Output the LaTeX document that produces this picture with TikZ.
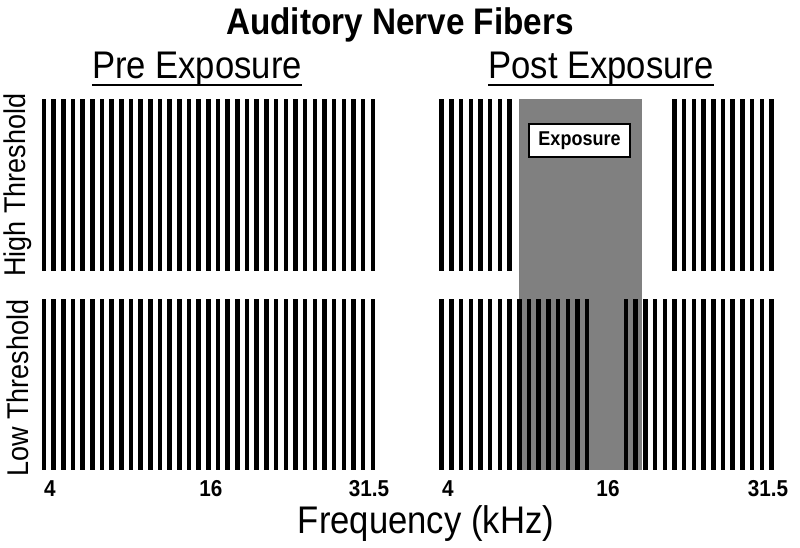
\documentclass[tikz,border=0pt]{standalone}
\usepackage{fontspec}
\setmainfont{Liberation Sans}
\definecolor{expgray}{RGB}{128,128,128}
\newcommand{\narrow}[1]{\scalebox{0.9}[1]{#1}}
\begin{document}
\begin{tikzpicture}[x=1pt,y=-1pt,
  bar/.style={fill=black},
  titlelab/.style={font=\fontsize{37}{40}\selectfont\bfseries, inner sep=0},
  panellab/.style={font=\fontsize{38.5}{40}\selectfont, inner sep=0},
  sidelab/.style={font=\fontsize{30}{32}\selectfont, inner sep=0, rotate=90},
  ticklab/.style={font=\fontsize{23}{26}\selectfont\bfseries, inner sep=0},
  axislab/.style={font=\fontsize{38.5}{40}\selectfont, inner sep=0},
  expbox/.style={draw=black, line width=1.2, fill=white, minimum width=101, minimum height=33, inner sep=0, font=\fontsize{20}{22}\selectfont\bfseries}]
\useasboundingbox[fill=white] (0,0) rectangle (800,547);
% exposure band
\fill[expgray] (519,99) rectangle (642,470);
% left panel bars
\foreach \i in {0,...,34}{
  \pgfmathsetmacro{\xc}{44+9.67*\i}
  \fill[bar] (\xc-2.25,99) rectangle (\xc+2.25,271);
  \fill[bar] (\xc-2.25,299) rectangle (\xc+2.25,470);
}
% right panel bars, high threshold
\foreach \i in {0,...,7,24,25,...,34}{
  \pgfmathsetmacro{\xc}{441.7+9.7*\i}
  \fill[bar] (\xc-2.25,99) rectangle (\xc+2.25,271);
}
% right panel bars, low threshold
\foreach \i in {0,...,15,19,20,...,34}{
  \pgfmathsetmacro{\xc}{441.7+9.7*\i}
  \fill[bar] (\xc-2.25,299) rectangle (\xc+2.25,470);
}
\node[expbox] (exp) at (579.5,140.5) {\narrow{Exposure}};
% titles
\node[titlelab, anchor=base] (title) at (400,34) {\narrow{Auditory Nerve Fibers}};
\node[panellab, anchor=base] (pre) at (197,78) {\narrow{Pre Exposure}};
\node[panellab, anchor=base] (post) at (601,78) {\narrow{Post Exposure}};
\draw[line width=2.5] ([yshift=-7]pre.base west) -- ([yshift=-7]pre.base east);
\draw[line width=2.5] ([yshift=-7]post.base west) -- ([yshift=-7]post.base east);
% side labels
\node[sidelab] (high) at (18,185) {\narrow{High Threshold}};
\node[sidelab] (low) at (18,388) {\narrow{Low Threshold}};
% ticks
\node[ticklab, anchor=base] (l4) at (50,496) {\narrow{4}};
\node[ticklab, anchor=base] (l16) at (211,496) {\narrow{16}};
\node[ticklab, anchor=base] (l31) at (369,496) {\narrow{31.5}};
\node[ticklab, anchor=base] (r4) at (448,496) {\narrow{4}};
\node[ticklab, anchor=base] (r16) at (608,496) {\narrow{16}};
\node[ticklab, anchor=base] (r31) at (768,496) {\narrow{31.5}};
\node[axislab, anchor=base] (freq) at (426,533) {\narrow{Frequency (kHz)}};
\end{tikzpicture}
\end{document}
